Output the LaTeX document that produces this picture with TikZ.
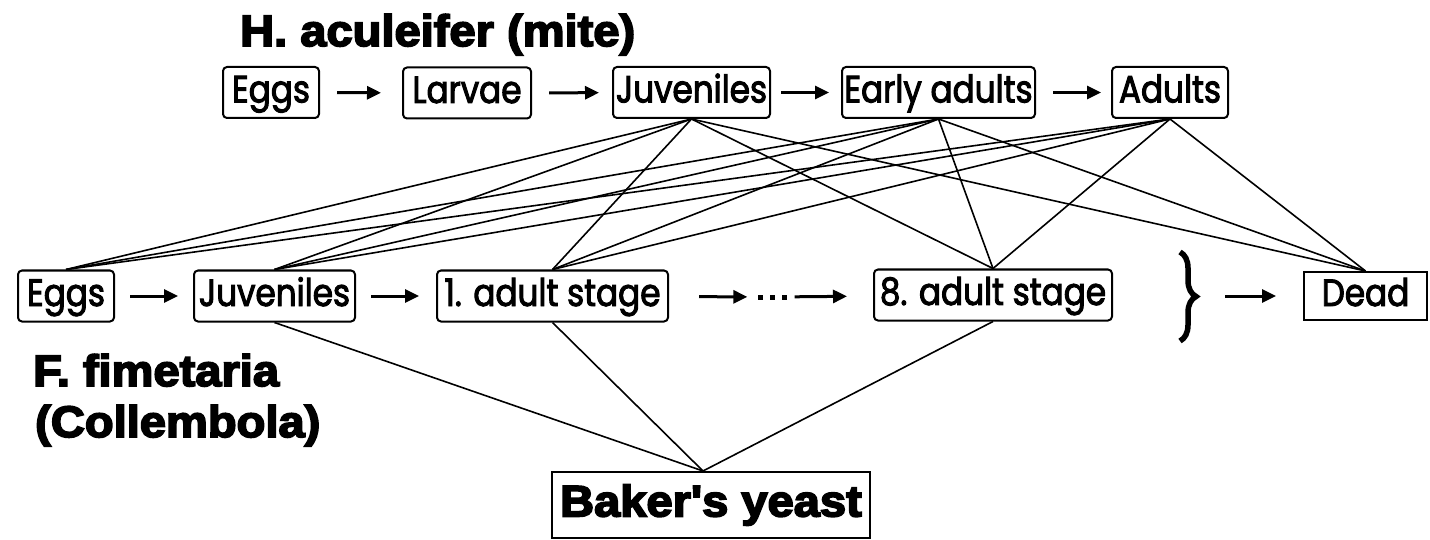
\documentclass[tikz,border=0pt]{standalone}
\usepackage{fontspec}
\setmainfont{Poppins}
\newfontfamily\labfont{Poppins}[FakeStretch=0.86,FakeBold=2.5]
\newfontfamily\heavyfont{Liberation Sans}[FakeStretch=1.07,FakeBold=4]
\usetikzlibrary{arrows.meta,decorations.pathreplacing}
\tikzset{
  stagebox/.style={draw, line width=2pt, rounded corners=4pt, minimum height=51pt,
    inner sep=0pt, text height=27pt, text depth=7pt,
    font=\labfont\fontsize{38}{40}\selectfont},
  heavytext/.style={inner sep=0pt, font=\heavyfont\bfseries\fontsize{44}{50}\selectfont},
  conn/.style={line width=1.6pt},
  arr/.style={line width=3pt, -{Triangle[length=14pt,width=13pt]}},
}
\begin{document}
\begin{tikzpicture}[x=1pt,y=-1pt]
\useasboundingbox (0,0) rectangle (1430,540);
% titles
\node[heavytext, anchor=base west] (tmite) at (240,46) {H. aculeifer (mite)};
\node[heavytext, anchor=base west] (tfim) at (33,386) {F. fimetaria};
\node[heavytext, anchor=base west] (tcol) at (35,437) {(Collembola)};
% top row
\node[stagebox, minimum width=96pt]  (e1) at (271,92.5)   {Eggs};
\node[stagebox, minimum width=128pt] (l1) at (467,93)     {Larvae};
\node[stagebox, minimum width=157pt] (j1) at (691.5,92.5) {Juveniles};
\node[stagebox, minimum width=193pt] (ea) at (938.5,92.5) {Early adults};
\node[stagebox, minimum width=116pt] (ad) at (1170,92.5)  {Adults};
% bottom row
\node[stagebox, minimum width=96pt]  (e2) at (66,296)    {Eggs};
\node[stagebox, minimum width=161pt] (j2) at (274.5,296) {Juveniles};
\node[stagebox, minimum width=231pt] (s1) at (552.5,296) {1. adult stage};
\node[stagebox, minimum width=238pt] (s8) at (993,295)   {8. adult stage};
\node[stagebox, sharp corners, minimum width=123pt, minimum height=48pt] (dead) at (1365.5,296) {Dead};
\node[draw, line width=2pt, minimum width=318pt, minimum height=66pt, inner sep=0pt,
      font=\heavyfont\bfseries\fontsize{44}{50}\selectfont] (yeast) at (711,505) {Baker's yeast};
% dots
\node[inner sep=0pt] (dots) at (772,297)
  {\rule{5pt}{5pt}\hspace{7pt}\rule{5pt}{5pt}\hspace{7pt}\rule{5pt}{5pt}};
% brace
\draw[line width=5.5pt, decorate, decoration={brace, amplitude=16pt}] (1180,252) -- (1180,341);
\coordinate (bracetip) at (1198,296);
% arrows
\draw[arr, shorten <=17pt, shorten >=21pt] (e1) -- (l1);
\draw[arr, shorten <=17pt, shorten >=13pt] (l1) -- (j1);
\draw[arr, shorten <=10pt, shorten >=12pt] (j1) -- (ea);
\draw[arr, shorten <=17pt, shorten >=10pt] (ea) -- (ad);
\draw[arr, shorten <=15pt, shorten >=15pt] (e2) -- (j2);
\draw[arr, shorten <=15pt, shorten >=17pt] (j2) -- (s1);
\draw[arr, shorten <=30pt, shorten >=10pt] (s1) -- (dots);
\draw[arr, shorten <=8pt, shorten >=26pt] (dots) -- (s8);
\draw[arr, shorten <=27pt, shorten >=27pt] (bracetip) -- (dead.west);
% feeding links
\foreach \a in {j1,ea,ad}
  \foreach \b in {e2,j2,s1,s8,dead}
    \draw[conn] (\a.south) -- (\b.north);
\foreach \b in {j2,s1,s8}
  \draw[conn] (\b.south) -- ([xshift=-8pt]yeast.north);
\end{tikzpicture}
\end{document}
